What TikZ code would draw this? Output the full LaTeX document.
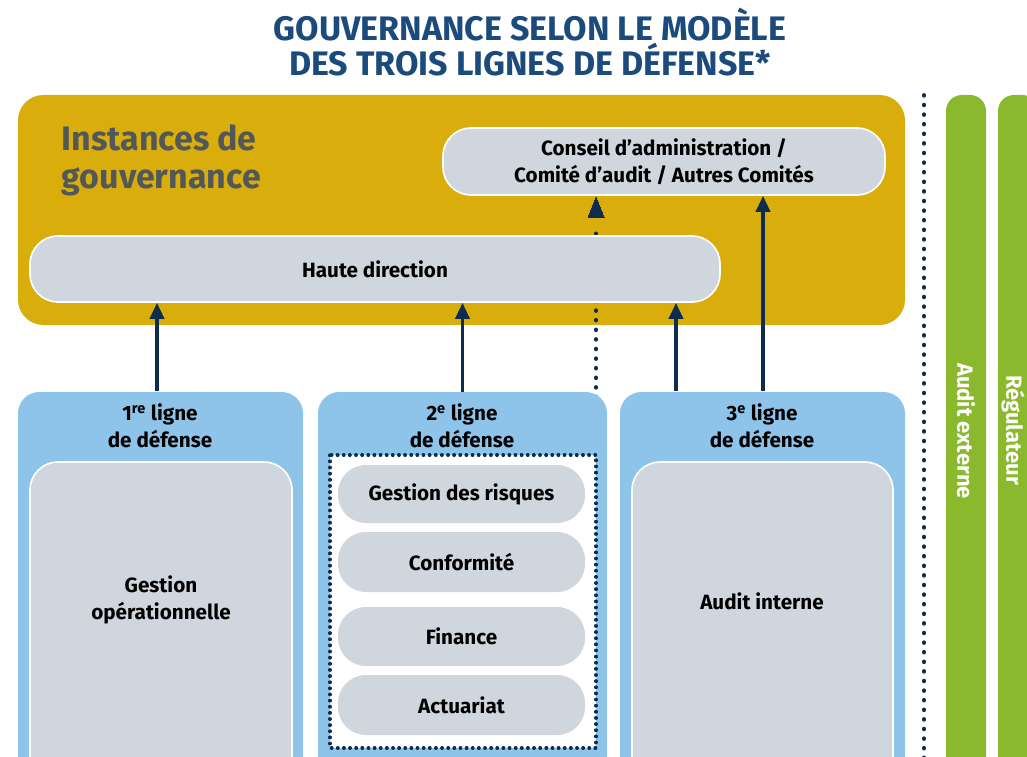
\documentclass[tikz,border=0pt]{standalone}
\usepackage{fontspec}
\setmainfont{Fira Sans}
\usetikzlibrary{arrows.meta}
\definecolor{govgold}{HTML}{D9AE0C}
\definecolor{lineblue}{HTML}{8EC3EA}
\definecolor{boxgrey}{HTML}{D0D6DD}
\definecolor{titlenavy}{HTML}{1B4A7C}
\definecolor{arrownavy}{HTML}{0E2C4E}
\definecolor{leafgreen}{HTML}{8AB92D}
\definecolor{slate}{HTML}{52575A}

\begin{document}
\begin{tikzpicture}[x=0.75pt,y=-0.75pt,
  govbox/.style={fill=govgold, rounded corners=19pt, inner sep=0pt},
  linebox/.style={fill=lineblue, rounded corners=16pt, inner sep=0pt},
  greybox/.style={draw=white, line width=1.2pt, fill=boxgrey, rounded corners=21pt, inner sep=0pt,
    align=center, font=\bfseries\fontsize{15.5}{20}\selectfont},
  greenbar/.style={fill=leafgreen, rounded corners=12pt, inner sep=0pt},
  bodytext/.style={align=center, font=\bfseries\fontsize{15.5}{20}\selectfont},
  uparrow/.style={arrownavy, line width=2.6pt, -{Triangle[width=10.5pt,length=12pt]}},
  dotline/.style={arrownavy, line width=2.8pt, line cap=round, dash pattern=on 0.6pt off 6.6pt},
  dotframe/.style={arrownavy, line width=2.5pt, line cap=round, dash pattern=on 0.4pt off 4.2pt}]
  %%%%% START %%%%%
  \useasboundingbox (0,0) rectangle (1027,756);
  \clip (0,0) rectangle (1027,756);

  \node[align=center, text=titlenavy, font=\bfseries\fontsize{25.5}{26.5}\selectfont] (title) at (530,42)
    {GOUVERNANCE SELON LE MODÈLE\\DES TROIS LIGNES DE DÉFENSE*};

  % instances de gouvernance
  \node[govbox, minimum width=887*0.75pt, minimum height=230*0.75pt] (gov) at (461.5,210) {};
  \node[anchor=west, align=left, text=slate, font=\bfseries\fontsize{25.5}{28.5}\selectfont] (govtext) at (57,160)
    {Instances de\\gouvernance};
  \node[greybox, minimum width=442*0.75pt, minimum height=67*0.75pt] (conseil) at (664,161.5)
    {Conseil d’administration /\\Comité d’audit / Autres Comités};

  % dotted link, 2nd line to the board
  \coordinate (d2) at (596,455);
  \draw[dotline] (d2) -- (596,228);
  \node[greybox, minimum width=690*0.75pt, minimum height=66*0.75pt] (haute) at (375,269) {Haute direction};
  \draw[arrownavy, line width=0pt, fill=arrownavy] (596,197) -- (604,217) -- (588,217) -- cycle;

  % the three lines
  \node[linebox, minimum width=285*0.75pt, minimum height=384*0.75pt] (line1) at (160.5,584) {};
  \node[linebox, minimum width=289*0.75pt, minimum height=384*0.75pt] (line2) at (462.5,584) {};
  \node[linebox, minimum width=285*0.75pt, minimum height=384*0.75pt] (line3) at (762.5,584) {};

  \node[bodytext] (head1) at (160,426) {1\textsuperscript{re} ligne\\de défense};
  \node[bodytext] (head2) at (462,426) {2\textsuperscript{e} ligne\\de défense};
  \node[bodytext] (head3) at (762,426) {3\textsuperscript{e} ligne\\de défense};

  \node[greybox, minimum width=262*0.75pt, minimum height=328*0.75pt] (inner1) at (161,626) {};
  \node[bodytext] (ops) at (161,600) {Gestion\\opérationnelle};
  \node[greybox, minimum width=261*0.75pt, minimum height=328*0.75pt] (inner3) at (762.5,626) {};
  \node[bodytext] (audit) at (762,601) {Audit interne};

  \fill[white] (330,455) rectangle (596,748);
  \draw[dotframe] (330,455) rectangle (596,748);
  \node[greybox, draw=none, minimum width=247*0.75pt, minimum height=58*0.75pt] (risques) at (461.5,494) {Gestion des risques};
  \node[greybox, draw=none, minimum width=247*0.75pt, minimum height=60*0.75pt] (conformite) at (461.5,562) {Conformité};
  \node[greybox, draw=none, minimum width=247*0.75pt, minimum height=59*0.75pt] (finance) at (461.5,636.5) {Finance};
  \node[greybox, draw=none, minimum width=247*0.75pt, minimum height=60*0.75pt] (actuariat) at (461.5,705) {Actuariat};

  % arrows up
  \coordinate (a1) at (157,391);
  \coordinate (a3) at (676,391);
  \coordinate (a4) at (763,391);
  \draw[uparrow] (a1) -- (a1 |- haute.south);
  \draw[uparrow] (line2.north) -- (line2.north |- haute.south);
  \draw[uparrow] (a3) -- (a3 |- haute.south);
  \draw[uparrow] (a4) -- (a4 |- conseil.south);

  % outside parties
  \draw[dotline] (924,95) -- (924,760);
  \node[greenbar, minimum width=40*0.75pt, minimum height=700*0.75pt] (ext) at (966,445) {};
  \node[greenbar, minimum width=40*0.75pt, minimum height=700*0.75pt] (reg) at (1018,445) {};
  \node[rotate=-90, text=white, font=\bfseries\fontsize{16.5}{17}\selectfont] (exttext) at (966,431) {Audit externe};
  \node[rotate=-90, text=white, font=\bfseries\fontsize{16.5}{17}\selectfont] (regtext) at (1013,430) {Régulateur};
  %%%%% END %%%%%
\end{tikzpicture}
\end{document}
